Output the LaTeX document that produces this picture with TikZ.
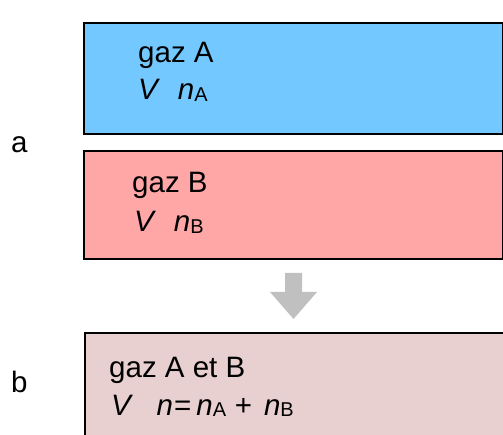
\documentclass[tikz,border=0pt]{standalone}
\usepackage{fontspec}
\setmainfont{Liberation Sans}
\usetikzlibrary{math}
\definecolor{bleuA}{RGB}{115,201,255}
\definecolor{roseB}{RGB}{255,166,166}
\definecolor{mauveAB}{RGB}{232,207,208}
\definecolor{grisFleche}{RGB}{192,192,192}
% petit indice droit (A, B)
\newcommand{\ind}[1]{\raisebox{-0.08ex}{\fontsize{20}{20}\selectfont #1}}

\begin{document}
\begin{tikzpicture}[x=1pt, y=-1pt,
    boite/.style={draw=black, line width=2.4pt, inner sep=0pt, anchor=north west},
    texte/.style={anchor=base west, inner sep=0pt, font=\fontsize{29.5}{34}\selectfont},
    lettre/.style={anchor=base west, inner sep=0pt, font=\fontsize{29.5}{34}\selectfont}]
    % Don't forget ; in \tikzmath.
    \tikzmath{%
      \gauche = 83; \droite = 501.5;
      \largeur = \droite - \gauche;
      % hauteurs des boites
      \hA = 111; \hB = 108; \hC = 120;
    }
    \useasboundingbox (0,0) rectangle (503,435);
    \clip (0,0) rectangle (503,435);
    % boites
    \node[boite, fill=bleuA, minimum width=\largeur, minimum height=\hA] (gazA) at (\gauche,22) {};
    \node[boite, fill=roseB, minimum width=\largeur, minimum height=\hB] (gazB) at (\gauche,150) {};
    \node[boite, fill=mauveAB, minimum width=\largeur, minimum height=\hC] (gazAB) at (\gauche+1,332) {};
    % textes
    \node[texte] (nomA) at (138,63) {gaz A};
    \node[texte] (quantA) at (138,100) {\textit{V}\hspace{0.6em}\textit{n}\ind{A}};
    \node[texte] (nomB) at (132,193) {gaz B};
    \node[texte] (quantB) at (134,232) {\textit{V}\hspace{0.6em}\textit{n}\ind{B}};
    \node[texte] (nomAB) at (109,377) {gaz A et B};
    \node[texte] (quantAB) at (111,415) {\textit{V}\hspace{0.8em}\textit{n}\kern1pt=\kern5pt\textit{n}\ind{A}\hspace{0.3em}+\hspace{0.4em}\textit{n}\ind{B}};
    % fleche grise
    \fill[grisFleche] (285,273) -- (302,273) -- (302,292) -- (317,292)
      -- (293.5,319) -- (270,292) -- (285,292) -- cycle;
    % lettres
    \node[lettre] (etatA) at (11,153) {a};
    \node[lettre] (etatB) at (11,392) {b};
\end{tikzpicture}
\end{document}
